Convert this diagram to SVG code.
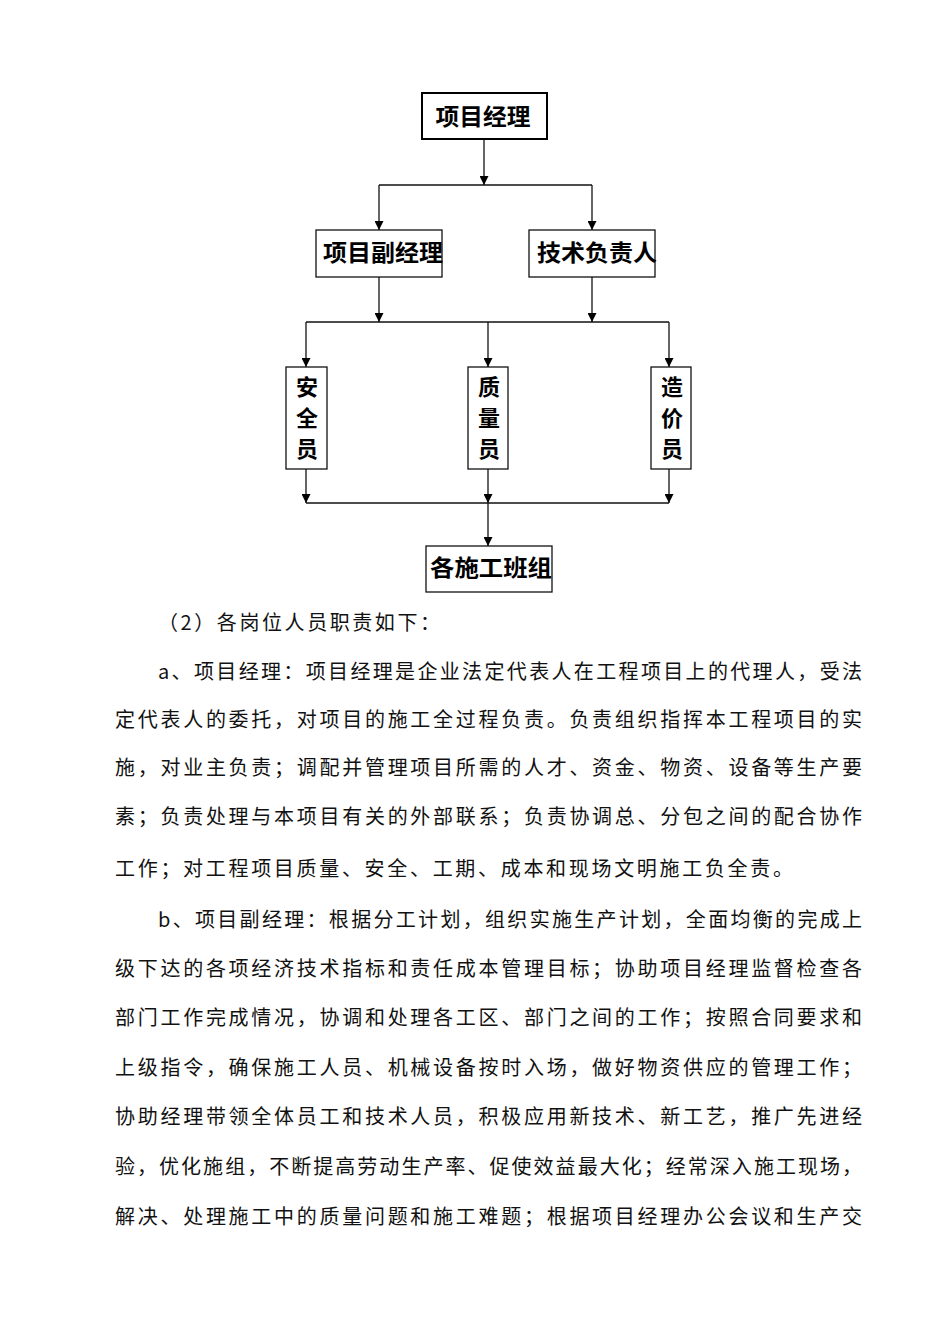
<svg xmlns="http://www.w3.org/2000/svg" width="950" height="1344" viewBox="0 0 950 1344">
<style>
.box{fill:#fff;stroke:#111;stroke-width:1.3}
.box2{fill:#fff;stroke:#000;stroke-width:2}
.lbl{font-family:"Noto Sans CJK SC","Noto Sans CJK TC",sans-serif;font-weight:bold;font-size:23px;fill:#000;text-anchor:middle}
.vl{font-family:"Noto Sans CJK SC",sans-serif;font-weight:bold;font-size:22px;fill:#000;text-anchor:middle}
.con{fill:none;stroke:#111;stroke-width:1.3}
.body{font-family:"Noto Sans CJK SC","Noto Sans CJK JP",sans-serif;font-size:20px;fill:#111}
</style>
<defs>
<marker id="ah" viewBox="0 0 10 10" refX="10" refY="5" markerWidth="9" markerHeight="9" orient="auto" markerUnits="userSpaceOnUse">
<path d="M0,0 L10,5 L0,10 z" fill="#000"/>
</marker>
</defs>
<rect width="950" height="1344" fill="#fff"/>

<g id="connectors">
<line class="con" x1="484" y1="139" x2="484" y2="185" marker-end="url(#ah)"/>
<line class="con" x1="379" y1="185" x2="592" y2="185"/>
<line class="con" x1="379" y1="185" x2="379" y2="230" marker-end="url(#ah)"/>
<line class="con" x1="592" y1="185" x2="592" y2="230" marker-end="url(#ah)"/>
<line class="con" x1="379" y1="277" x2="379" y2="322" marker-end="url(#ah)"/>
<line class="con" x1="592" y1="277" x2="592" y2="322" marker-end="url(#ah)"/>
<line class="con" x1="306" y1="322" x2="669" y2="322"/>
<line class="con" x1="306" y1="322" x2="306" y2="367" marker-end="url(#ah)"/>
<line class="con" x1="488" y1="322" x2="488" y2="367" marker-end="url(#ah)"/>
<line class="con" x1="669" y1="322" x2="669" y2="367" marker-end="url(#ah)"/>
<line class="con" x1="306" y1="469" x2="306" y2="503" marker-end="url(#ah)"/>
<line class="con" x1="488" y1="469" x2="488" y2="503" marker-end="url(#ah)"/>
<line class="con" x1="669" y1="469" x2="669" y2="503" marker-end="url(#ah)"/>
<line class="con" x1="306" y1="503" x2="669" y2="503"/>
<line class="con" x1="488" y1="503" x2="488" y2="546" marker-end="url(#ah)"/>
</g>

<g id="node-pm">
<rect class="box2" x="422" y="93" width="125" height="46"/>
<text class="lbl" x="483" y="125" textLength="95" lengthAdjust="spacingAndGlyphs">项目经理</text>
</g>
<g id="node-deputy">
<rect class="box" x="316" y="230" width="126" height="47"/>
<text class="lbl" x="383" y="261" textLength="120" lengthAdjust="spacingAndGlyphs">项目副经理</text>
</g>
<g id="node-tech">
<rect class="box" x="529" y="230" width="126" height="47"/>
<text class="lbl" x="597" y="261" textLength="120" lengthAdjust="spacingAndGlyphs">技术负责人</text>
</g>
<g id="node-safety">
<rect class="box" x="286" y="367" width="41" height="102"/>
<text class="vl" x="307" y="395">安</text>
<text class="vl" x="307" y="426">全</text>
<text class="vl" x="307" y="457">员</text>
</g>
<g id="node-quality">
<rect class="box" x="468" y="367" width="40" height="102"/>
<text class="vl" x="489" y="395">质</text>
<text class="vl" x="489" y="426">量</text>
<text class="vl" x="489" y="457">员</text>
</g>
<g id="node-cost">
<rect class="box" x="651" y="367" width="40" height="102"/>
<text class="vl" x="672" y="395">造</text>
<text class="vl" x="672" y="426">价</text>
<text class="vl" x="672" y="457">员</text>
</g>
<g id="node-teams">
<rect class="box" x="426" y="546" width="126" height="46"/>
<text class="lbl" x="491" y="576" textLength="122" lengthAdjust="spacingAndGlyphs">各施工班组</text>
</g>

<g id="body-text" class="body">
<text x="158" y="630" textLength="282" lengthAdjust="spacing">（2）各岗位人员职责如下：</text>
<text x="158" y="679" textLength="704" lengthAdjust="spacing">a、项目经理：项目经理是企业法定代表人在工程项目上的代理人，受法</text>
<text x="115" y="727" textLength="747" lengthAdjust="spacing">定代表人的委托，对项目的施工全过程负责。负责组织指挥本工程项目的实</text>
<text x="115" y="775" textLength="747" lengthAdjust="spacing">施，对业主负责；调配并管理项目所需的人才、资金、物资、设备等生产要</text>
<text x="115" y="824" textLength="747" lengthAdjust="spacing">素；负责处理与本项目有关的外部联系；负责协调总、分包之间的配合协作</text>
<text x="115" y="876" textLength="678" lengthAdjust="spacing">工作；对工程项目质量、安全、工期、成本和现场文明施工负全责。</text>
<text x="158" y="927" textLength="704" lengthAdjust="spacing">b、项目副经理：根据分工计划，组织实施生产计划，全面均衡的完成上</text>
<text x="115" y="976" textLength="747" lengthAdjust="spacing">级下达的各项经济技术指标和责任成本管理目标；协助项目经理监督检查各</text>
<text x="115" y="1025" textLength="747" lengthAdjust="spacing">部门工作完成情况，协调和处理各工区、部门之间的工作；按照合同要求和</text>
<text x="115" y="1075" textLength="747" lengthAdjust="spacing">上级指令，确保施工人员、机械设备按时入场，做好物资供应的管理工作；</text>
<text x="115" y="1124" textLength="747" lengthAdjust="spacing">协助经理带领全体员工和技术人员，积极应用新技术、新工艺，推广先进经</text>
<text x="115" y="1174" textLength="747" lengthAdjust="spacing">验，优化施组，不断提高劳动生产率、促使效益最大化；经常深入施工现场，</text>
<text x="115" y="1224" textLength="747" lengthAdjust="spacing">解决、处理施工中的质量问题和施工难题；根据项目经理办公会议和生产交</text>
</g>
</svg>
